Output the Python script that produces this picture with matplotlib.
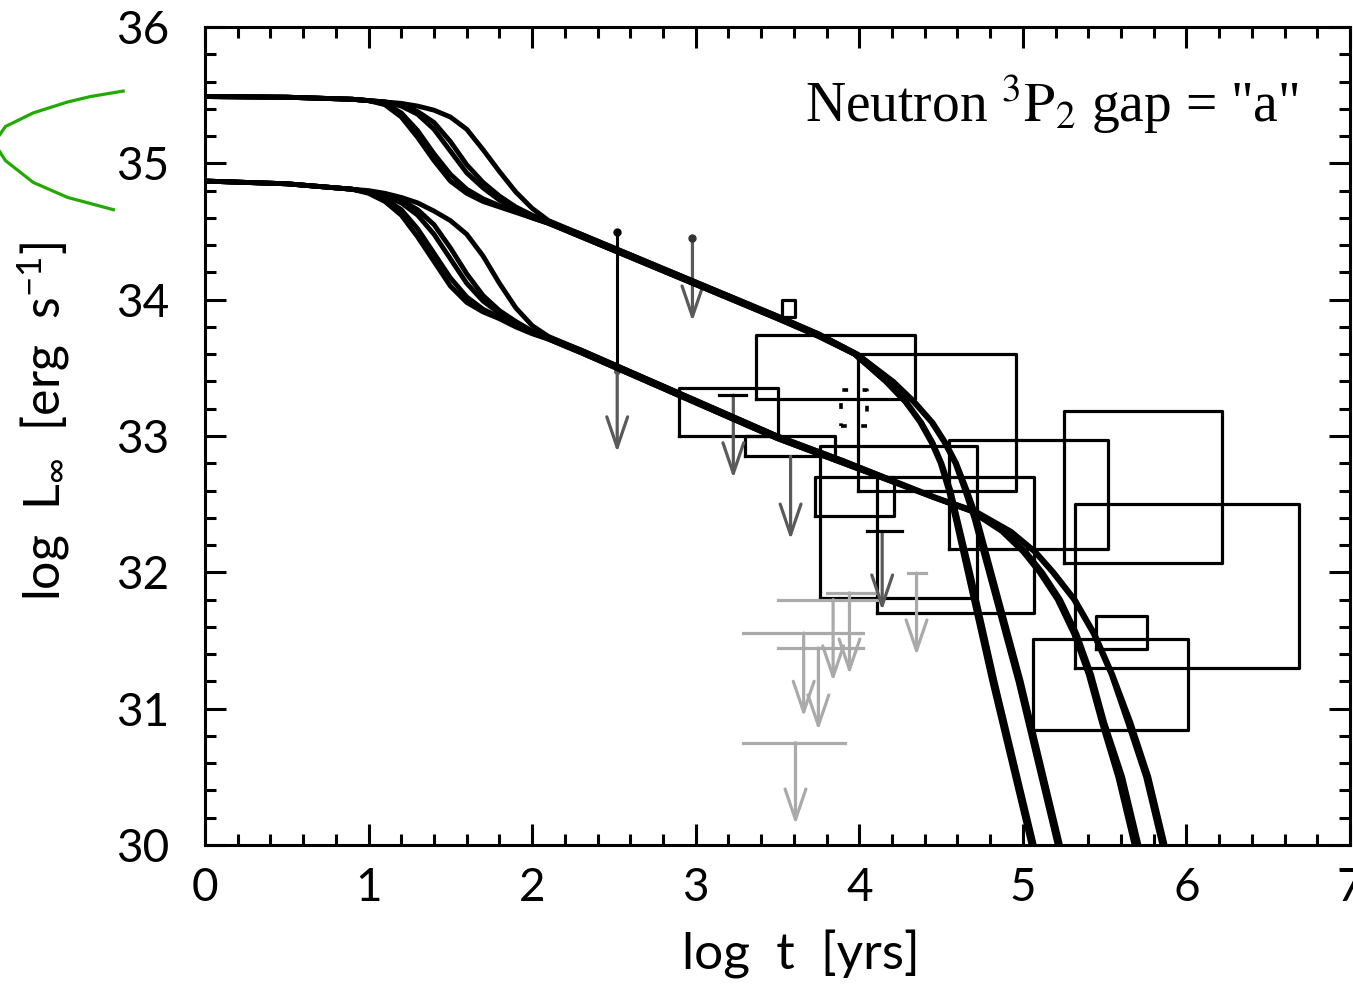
import matplotlib
matplotlib.use("Agg")
import matplotlib.pyplot as plt

plt.rcParams.update({
    "font.family": ["Lato", "DejaVu Sans"],
    "mathtext.fontset": "custom",
    "mathtext.rm": "Lato",
    "mathtext.it": "Lato:italic",
})

# ---- cooling curves: upper family (higher initial luminosity)
U_pre_x = [0.0, 0.5, 0.9]
U_pre_y = [35.49, 35.485, 35.47]
T_x = [1.0, 1.1, 1.2, 1.3, 1.4, 1.5, 1.6, 1.7, 1.8, 1.9, 2.0, 2.1]
U_trans = [
    [35.46, 35.43, 35.34, 35.19, 35.02, 34.87, 34.78, 34.72, 34.68, 34.64, 34.60, 34.56],
    [35.46, 35.44, 35.37, 35.24, 35.07, 34.92, 34.81, 34.74, 34.69, 34.65, 34.60, 34.56],
    [35.46, 35.45, 35.42, 35.36, 35.25, 35.09, 34.93, 34.82, 34.73, 34.67, 34.61, 34.56],
    [35.46, 35.45, 35.43, 35.38, 35.30, 35.16, 34.99, 34.86, 34.76, 34.68, 34.62, 34.57],
    [35.46, 35.45, 35.44, 35.42, 35.39, 35.34, 35.25, 35.10, 34.94, 34.79, 34.67, 34.58],
]
U_mid_x = [2.3, 2.7, 3.1, 3.5, 3.75]
U_mids_y = [
    [34.46, 34.26, 34.06, 33.86, 33.73],
    [34.46, 34.26, 34.06, 33.86, 33.73],
    [34.47, 34.27, 34.07, 33.87, 33.74],
    [34.48, 34.28, 34.08, 33.88, 33.75],
    [34.48, 34.28, 34.08, 33.88, 33.75],
]
U_tail_y = [33.6, 33.4, 33.25, 33.1, 32.95, 32.8, 32.6, 32.4, 32.0, 31.6, 31.2, 30.8, 30.4, 30.0]
U_tails_x = [
    [3.97, 4.16, 4.28, 4.37, 4.44, 4.495, 4.545, 4.585, 4.66, 4.735, 4.81, 4.89, 4.97, 5.05],
    [3.97, 4.17, 4.29, 4.38, 4.45, 4.505, 4.56, 4.60, 4.68, 4.755, 4.83, 4.91, 4.99, 5.07],
    [3.97, 4.16, 4.28, 4.38, 4.45, 4.50, 4.55, 4.59, 4.67, 4.745, 4.82, 4.90, 4.98, 5.06],
    [3.99, 4.20, 4.33, 4.44, 4.52, 4.585, 4.645, 4.70, 4.79, 4.88, 4.97, 5.05, 5.13, 5.21],
    [3.99, 4.21, 4.34, 4.45, 4.53, 4.595, 4.66, 4.72, 4.81, 4.90, 4.99, 5.07, 5.15, 5.23],
]

# ---- lower family
L_pre_x = [0.0, 0.5, 0.9]
L_pre_y = [34.87, 34.85, 34.81]
L_trans = [
    [34.78, 34.72, 34.62, 34.46, 34.28, 34.10, 33.98, 33.91, 33.86, 33.80, 33.75, 33.71],
    [34.79, 34.74, 34.66, 34.52, 34.34, 34.16, 34.02, 33.93, 33.87, 33.81, 33.76, 33.71],
    [34.79, 34.76, 34.71, 34.62, 34.48, 34.30, 34.12, 33.99, 33.90, 33.83, 33.76, 33.72],
    [34.79, 34.77, 34.73, 34.66, 34.55, 34.38, 34.19, 34.03, 33.92, 33.84, 33.77, 33.72],
    [34.80, 34.78, 34.75, 34.71, 34.65, 34.58, 34.48, 34.32, 34.12, 33.94, 33.81, 33.73],
]
L_mid_x = [2.3, 2.7, 3.1, 3.5, 3.9]
L_mids_y = [
    [33.61, 33.40, 33.19, 32.98, 32.80],
    [33.61, 33.40, 33.19, 32.98, 32.80],
    [33.62, 33.41, 33.20, 32.99, 32.81],
    [33.63, 33.42, 33.21, 33.00, 32.82],
    [33.63, 33.42, 33.21, 33.00, 32.82],
]
L_tail_y = [32.55, 32.45, 32.3, 32.15, 32.0, 31.8, 31.55, 31.25, 30.9, 30.5, 30.0]
L_tails_x = [
    [4.45, 4.68, 4.87, 5.00, 5.10, 5.21, 5.31, 5.40, 5.48, 5.58, 5.68],
    [4.46, 4.69, 4.89, 5.02, 5.12, 5.23, 5.33, 5.42, 5.50, 5.61, 5.71],
    [4.45, 4.68, 4.88, 5.01, 5.11, 5.22, 5.32, 5.41, 5.49, 5.59, 5.70],
    [4.46, 4.70, 4.92, 5.07, 5.18, 5.31, 5.43, 5.54, 5.64, 5.75, 5.85],
    [4.47, 4.71, 4.93, 5.08, 5.19, 5.32, 5.44, 5.55, 5.66, 5.77, 5.87],
]

# ---- observed sources: error boxes (log t range, log L range)
box_x0 = [3.53, 3.37, 3.99, 2.90, 3.30, 3.73, 3.76, 4.11, 4.55, 5.25, 5.32, 5.45, 5.06]
box_x1 = [3.61, 4.34, 4.96, 3.50, 3.85, 4.21, 4.72, 5.07, 5.52, 6.22, 6.69, 5.76, 6.01]
box_y0 = [33.87, 33.27, 32.60, 33.00, 32.85, 32.41, 31.81, 31.70, 32.17, 32.07, 31.30, 31.44, 30.84]
box_y1 = [34.00, 33.74, 33.60, 33.35, 33.00, 32.70, 32.93, 32.70, 32.97, 33.18, 32.50, 31.68, 31.51]
dot_box = (3.89, 4.05, 33.07, 33.34)

# ---- upper limits (dark)
dk_x = [2.52, 2.98, 3.23, 3.58, 4.14]
dk_top = [33.48, 34.45, 33.30, 32.85, 32.30]
dk_tip = [32.88, 33.84, 32.69, 32.24, 31.72]
dk_bar_x0 = [3.14, 4.05]
dk_bar_x1 = [3.31, 4.26]
dk_bar_y = [33.30, 32.30]
det_x, det_y0, det_y1 = 2.52, 33.48, 34.50

# ---- upper limits (light)
lg_x = [3.84, 3.94, 3.66, 3.75, 3.61, 4.35]
lg_top = [31.80, 31.85, 31.555, 31.445, 30.75, 31.995]
lg_tip = [31.20, 31.25, 30.94, 30.84, 30.15, 31.39]
lg_bar_x0 = [3.50, 3.80, 3.29, 3.50, 3.29, 4.30]
lg_bar_x1 = [4.12, 4.10, 4.02, 4.02, 3.91, 4.41]

green_x = [-0.50, -0.70, -0.84, -1.05, -1.22, -1.29, -1.22, -1.05, -0.84, -0.56]
green_y = [35.53, 35.49, 35.45, 35.37, 35.27, 35.15, 35.02, 34.86, 34.75, 34.66]

C_DK = "#5a5a5a"; C_LG = "#aaaaaa"

fig = plt.figure(figsize=(13.53, 9.89), dpi=100)
ax = fig.add_axes([205 / 1353, 1 - 845 / 989, 1145 / 1353, 818 / 989])

for trans, my, tx in zip(U_trans, U_mids_y, U_tails_x):
    xs = U_pre_x + T_x + U_mid_x + tx
    ys = U_pre_y + trans + my + U_tail_y
    ax.plot(xs, ys, color="black", lw=3.5, zorder=4, solid_capstyle="round",
            solid_joinstyle="round")
for trans, my, tx in zip(L_trans, L_mids_y, L_tails_x):
    xs = L_pre_x + T_x + L_mid_x + tx
    ys = L_pre_y + trans + my + L_tail_y
    ax.plot(xs, ys, color="black", lw=3.5, zorder=4, solid_capstyle="round",
            solid_joinstyle="round")

for x0, x1, y0, y1 in zip(box_x0, box_x1, box_y0, box_y1):
    ax.plot([x0, x1, x1, x0, x0], [y0, y0, y1, y1, y0], color="black", lw=2.3, zorder=3)
x0, x1, y0, y1 = dot_box
ax.plot([x0, x1, x1, x0, x0], [y0, y0, y1, y1, y0], color="black", lw=2.6,
        ls=(0, (1.6, 4.0)), zorder=3)

def uplim(x, top, tip, color):
    ax.annotate("", xy=(x, tip), xytext=(x, top), zorder=3,
                arrowprops=dict(arrowstyle="->,head_length=2.2,head_width=0.75",
                                color=color, lw=2.3, shrinkA=0, shrinkB=0,
                                mutation_scale=10))

for x, t, b in zip(lg_x, lg_top, lg_tip):
    uplim(x, t, b, C_LG)
for a, b, y in zip(lg_bar_x0, lg_bar_x1, lg_top):
    ax.plot([a, b], [y, y], color=C_LG, lw=2.3, zorder=3)
for x, t, b in zip(dk_x, dk_top, dk_tip):
    uplim(x, t, b, C_DK)
for a, b, y in zip(dk_bar_x0, dk_bar_x1, dk_bar_y):
    ax.plot([a, b], [y, y], color="black", lw=2.3, zorder=3)
ax.plot([det_x, det_x], [det_y0, det_y1], color="black", lw=2.2, zorder=3)
ax.plot([det_x], [det_y1], "o", color="black", ms=5, zorder=3)
ax.plot([det_x], [det_y0], "o", color=C_DK, ms=4, zorder=3)
ax.plot([dk_x[1]], [dk_top[1]], "o", color="#333333", ms=5, zorder=3)

ax.plot(green_x, green_y, color="#22aa00", lw=2.3, clip_on=False)

ax.set_xlim(0, 7)
ax.set_ylim(30, 36)
ax.set_xticks(range(0, 8))
ax.set_yticks(range(30, 37))
ax.set_xticks([i * 0.2 for i in range(36)], minor=True)
ax.set_yticks([30 + i * 0.2 for i in range(31)], minor=True)
ax.tick_params(which="both", direction="in", top=True, right=True, width=2.2)
ax.tick_params(which="major", length=15, labelsize=33)
ax.tick_params(which="minor", length=8)
ax.tick_params(axis="x", which="major", pad=16)
ax.tick_params(axis="y", which="major", pad=26)
for s in ax.spines.values():
    s.set_linewidth(2.2)

ax.set_xlabel("log  t  [yrs]", fontsize=37)
ax.set_ylabel(r"log  L$_{\infty}$  [erg  s$^{-1}$]", fontsize=36)
ax.xaxis.set_label_coords(0.52, -0.104)
ax.yaxis.set_label_coords(-0.116, 0.518)

ax.text(0.955, 0.884, r'Neutron $^{3}\mathrm{P}_{2}$ gap = "a"', transform=ax.transAxes,
        ha="right", va="baseline", fontsize=40, family="Liberation Serif",
        math_fontfamily="stix", zorder=5)

fig.savefig("out.png", dpi=100)
